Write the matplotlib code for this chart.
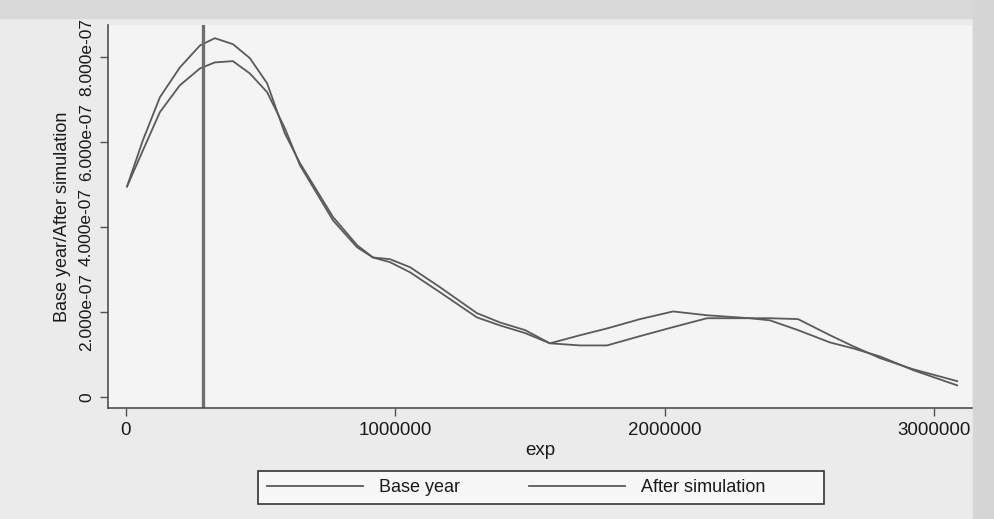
import matplotlib
matplotlib.use("Agg")
import matplotlib.pyplot as plt
from matplotlib.patches import Rectangle

# grid of exp values (shared by both density curves)
exp_grid = [4000, 63000, 126000, 200000, 275000, 330000, 397000, 460000, 524000,
            590000, 646000, 769000, 858000, 917000, 980000, 1055000, 1166000,
            1303000, 1389000, 1482000, 1574000, 1686000, 1786000, 1909000,
            2031000, 2157000, 2317000, 2391000, 2495000, 2614000, 2700000,
            2800000, 2922000, 3086000]

# densities, in units of 1e-07
base_year = [4.96, 6.05, 7.06, 7.76, 8.28, 8.45, 8.31, 7.98, 7.39, 6.21, 5.51,
             4.24, 3.58, 3.29, 3.18, 2.94, 2.47, 1.88, 1.69, 1.51, 1.27, 1.46,
             1.62, 1.84, 2.02, 1.93, 1.86, 1.81, 1.58, 1.29, 1.15, 0.96, 0.64,
             0.28]
after_sim = [4.96, 5.81, 6.71, 7.34, 7.74, 7.88, 7.91, 7.62, 7.18, 6.33, 5.46,
             4.16, 3.53, 3.29, 3.25, 3.06, 2.59, 1.98, 1.76, 1.58, 1.27, 1.22,
             1.22, 1.44, 1.65, 1.86, 1.86, 1.86, 1.84, 1.46, 1.20, 0.92, 0.66,
             0.38]

ref_line = 285000

x_ticks = [0, 1000000, 2000000, 3000000]
x_tick_labels = ["0", "1000000", "2000000", "3000000"]
y_ticks = [0, 2e-7, 4e-7, 6e-7, 8e-7]
y_tick_labels = ["0", "2.000e-07", "4.000e-07", "6.000e-07", "8.000e-07"]

LINE = "#5a5a5a"
PAGE = "#ebebeb"
PLOT_BG = "#f4f4f4"
INK = "#1a1a1a"

plt.rcParams["font.family"] = ["Liberation Sans", "DejaVu Sans"]

fig = plt.figure(figsize=(9.95, 5.19), dpi=100, facecolor=PAGE)
# scan shadows on the top and right edges
fig.add_artist(Rectangle((0, 0.965), 1, 0.035, transform=fig.transFigure,
                         color="#d9d9d9", zorder=0))
fig.add_artist(Rectangle((0.978, 0), 0.022, 1, transform=fig.transFigure,
                         color="#d6d6d6", zorder=0))

ax = fig.add_axes([0.1085, 0.2139, 0.977 - 0.1085, 0.9518 - 0.2139])
ax.set_facecolor(PLOT_BG)

scale = 1e-7
ax.plot(exp_grid, [v * scale for v in base_year], color=LINE, lw=1.3, label="Base year")
ax.plot(exp_grid, [v * scale for v in after_sim], color=LINE, lw=1.3, label="After simulation")
ax.axvline(ref_line, color="#6e6e6e", lw=2.4)

ax.set_xlim(-66800, 3141400)
ax.set_ylim(-0.252e-7, 8.76e-7)

ax.set_xticks(x_ticks)
ax.set_xticklabels(x_tick_labels, fontsize=13.5, color=INK)
ax.set_yticks(y_ticks)
ax.set_yticklabels(y_tick_labels, fontsize=12.5, color=INK, rotation=90, va="center")

for s in ("top", "right"):
    ax.spines[s].set_visible(False)
for s in ("left", "bottom"):
    ax.spines[s].set_color("#505050")
    ax.spines[s].set_linewidth(1.2)
ax.tick_params(axis="both", colors="#505050", length=6, width=1.0, labelcolor=INK)
ax.tick_params(axis="x", pad=4)
ax.tick_params(axis="y", pad=4)

ax.set_xlabel("exp", fontsize=13.5, color=INK, labelpad=2)
ax.set_ylabel("Base year/After simulation", fontsize=13, color=INK, labelpad=6)

# legend box drawn separately so the entries sit to the left like the original
fig.add_artist(Rectangle((258 / 995, 1 - 504 / 519), 566 / 995, 33 / 519,
                         transform=fig.transFigure, facecolor="#f7f7f7",
                         edgecolor="#333333", linewidth=1.2, zorder=1))
leg = fig.legend(loc="center left", bbox_to_anchor=(267 / 995, 1 - 487.5 / 519),
                 ncol=2, fontsize=13, handlelength=5.3, handletextpad=0.9,
                 frameon=False, borderpad=0.0, borderaxespad=0.0, columnspacing=3.85)
leg.set_zorder(2)
for t in leg.get_texts():
    t.set_color(INK)

fig.savefig("out.png", dpi=100, facecolor=PAGE)
